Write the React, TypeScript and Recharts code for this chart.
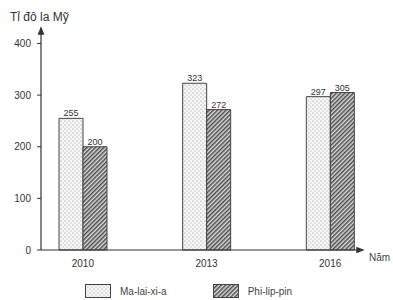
import { BarChart, Bar, XAxis, YAxis, LabelList } from 'recharts'

const years = ['2010', '2013', '2016']
const malaysia = [255, 323, 297]
const philippines = [200, 272, 305]
const yTicks = [0, 100, 200, 300, 400]

const data = years.map((y, i) => ({ year: y, ma: malaysia[i], phi: philippines[i] }))

const font = '"Liberation Sans Narrow", "Liberation Sans", Arial, sans-serif'

function Swatch({ kind }: { kind: 'dot' | 'hatch' }) {
  return (
    <svg width={26} height={14}>
      <defs>
        <pattern id={`lg-${kind}`} width={kind === 'dot' ? 4 : 3} height={kind === 'dot' ? 4 : 3} patternUnits="userSpaceOnUse" patternTransform={kind === 'hatch' ? 'rotate(-45)' : undefined}>
          {kind === 'dot' ? (
            <>
              <rect width={4} height={4} fill="#f6f6f6" />
              <circle cx={1} cy={1} r={0.6} fill="#8a8a8a" />
              <circle cx={3} cy={3} r={0.6} fill="#aaa" />
            </>
          ) : (
            <>
              <rect width={3} height={3} fill="#dcdcdc" />
              <rect width={3} height={1.5} fill="#4a4a4a" />
            </>
          )}
        </pattern>
      </defs>
      <rect x={0.5} y={0.5} width={25} height={13} fill={`url(#lg-${kind})`} stroke="#444" />
    </svg>
  )
}

export default function App() {
  return (
    <div style={{ position: 'fixed', top: 0, left: 0, width: 393, height: 300, background: '#fff', fontFamily: font }}>
      <div style={{ position: 'absolute', left: 10, top: 10, fontSize: 12, color: '#333' }}>Tỉ đô la Mỹ</div>
      <div style={{ position: 'absolute', left: 369, top: 252, fontSize: 10, color: '#444' }}>Năm</div>

      <BarChart
        width={393}
        height={275}
        data={data}
        margin={{ top: 28, right: 30, left: 0, bottom: 0 }}
        barGap={0}
        barCategoryGap={0}
      >
        <defs>
          <pattern id="dots" width={4} height={4} patternUnits="userSpaceOnUse">
            <rect width={4} height={4} fill="#f6f6f6" />
            <circle cx={1} cy={1} r={0.6} fill="#8a8a8a" />
            <circle cx={3} cy={3} r={0.6} fill="#aaa" />
          </pattern>
          <pattern id="hatch" width={3} height={3} patternUnits="userSpaceOnUse" patternTransform="rotate(-45)">
            <rect width={3} height={3} fill="#dcdcdc" />
            <rect width={3} height={1.5} fill="#4a4a4a" />
          </pattern>
          <marker id="arrow" viewBox="0 0 10 10" refX={8} refY={5} markerWidth={7} markerHeight={7} orient="auto-start-reverse">
            <path d="M0,1 L10,5 L0,9 z" fill="#333" />
          </marker>
        </defs>

        <YAxis
          domain={[0, 430]}
          ticks={yTicks}
          width={41}
          tickSize={4}
          tick={{ fontSize: 10, fill: '#333', fontFamily: font, dx: -4 }}
          axisLine={{ stroke: '#333', strokeWidth: 1.2, markerStart: 'url(#arrow)' }}
          tickLine={{ stroke: '#333' }}
        />
        <XAxis
          dataKey="year"
          height={25}
          padding={{ left: -20, right: -29 }}
          tickLine={false}
          tick={{ fontSize: 10, fill: '#333', fontFamily: font, dy: 2 }}
          axisLine={{ stroke: '#333', strokeWidth: 1.2, markerEnd: 'url(#arrow)' }}
        />

        <Bar dataKey="ma" barSize={24} fill="url(#dots)" stroke="#444" strokeWidth={1} isAnimationActive={false}>
          <LabelList dataKey="ma" position="top" offset={2} style={{ fontSize: 9, fill: '#333', fontFamily: font }} />
        </Bar>
        <Bar dataKey="phi" barSize={24} fill="url(#hatch)" stroke="#444" strokeWidth={1} isAnimationActive={false}>
          <LabelList dataKey="phi" position="top" offset={2} style={{ fontSize: 9, fill: '#333', fontFamily: font }} />
        </Bar>
      </BarChart>

      <div style={{ position: 'absolute', top: 284, left: 85, display: 'flex', alignItems: 'center', fontSize: 10, color: '#444' }}>
        <Swatch kind="dot" />
        <span style={{ marginLeft: 9 }}>Ma-lai-xi-a</span>
        <span style={{ width: 46 }} />
        <Swatch kind="hatch" />
        <span style={{ marginLeft: 9 }}>Phi-lip-pin</span>
      </div>
    </div>
  )
}
